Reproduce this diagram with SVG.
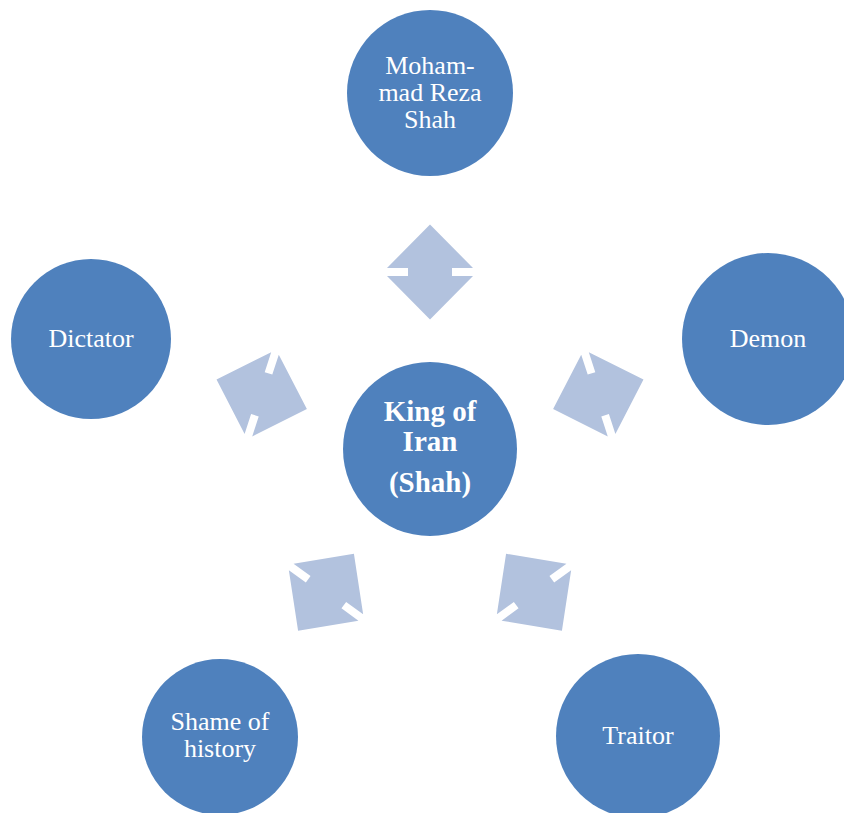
<svg xmlns="http://www.w3.org/2000/svg" width="844" height="813" viewBox="0 0 844 813">
<defs>
<style>
.node{fill:#4F81BD}
.arrow{fill:#B2C2DE}
.t{fill:#FFFFFF;font-family:"Liberation Serif","Times New Roman",serif;font-size:26px;text-anchor:middle}
.tb{fill:#FFFFFF;font-family:"Liberation Serif","Times New Roman",serif;font-size:29px;font-weight:bold;text-anchor:middle}
</style>
<path id="dbl" d="M0,-47.5 L43,-4 L22,-4 L22,4 L43,4 L0,47.5 L-43,4 L-22,4 L-22,-4 L-43,-4 Z"/>
</defs>
<rect width="844" height="813" fill="#FFFFFF"/>
<g id="connectors" class="arrow">
<use href="#dbl" transform="translate(430,272)"/>
<use href="#dbl" transform="translate(598.3,394.3) rotate(72)"/>
<use href="#dbl" transform="translate(534,592.2) rotate(144)"/>
<use href="#dbl" transform="translate(326,592.2) rotate(216)"/>
<use href="#dbl" transform="translate(261.7,394.3) rotate(288)"/>
</g>
<g id="center">
<circle class="node" cx="430" cy="449" r="87"/>
<text class="tb" x="430" y="421">King of</text>
<text class="tb" x="430" y="451">Iran</text>
<text class="tb" x="430" y="492">(Shah)</text>
</g>
<g id="mohammad">
<circle class="node" cx="430" cy="93" r="83"/>
<text class="t" x="430" y="74">Moham-</text>
<text class="t" x="430" y="101">mad Reza</text>
<text class="t" x="430" y="128">Shah</text>
</g>
<g id="demon">
<circle class="node" cx="768" cy="339" r="86"/>
<text class="t" x="768" y="347">Demon</text>
</g>
<g id="traitor">
<circle class="node" cx="638" cy="736" r="82"/>
<text class="t" x="638" y="744">Traitor</text>
</g>
<g id="shame">
<circle class="node" cx="220" cy="737" r="78"/>
<text class="t" x="220" y="730">Shame of</text>
<text class="t" x="220" y="757">history</text>
</g>
<g id="dictator">
<circle class="node" cx="91" cy="339" r="80"/>
<text class="t" x="91" y="347">Dictator</text>
</g>
</svg>
